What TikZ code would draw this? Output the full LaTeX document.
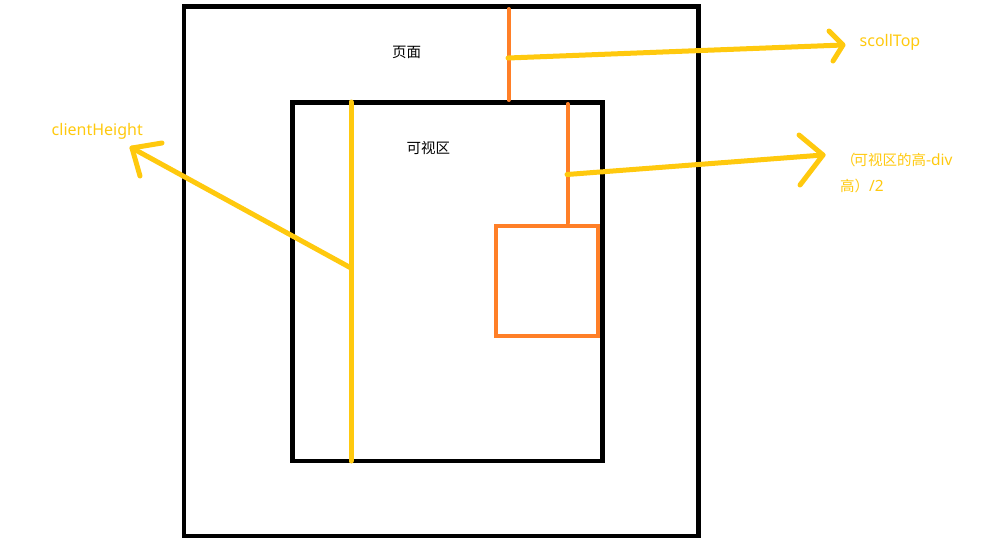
\documentclass[tikz,border=0pt]{standalone}
\usepackage{fontspec}
\setmainfont{Noto Sans}
\newfontfamily\cjk{Noto Sans CJK SC}
\definecolor{pyellow}{HTML}{FFC90E}
\definecolor{porange}{HTML}{FF7F27}
\begin{document}
\begin{tikzpicture}[x=1pt,y=-1pt,
  box/.style={draw=black,line width=4.6pt},
  obox/.style={draw=porange,line width=4.6pt},
  oline/.style={draw=porange,line width=4pt,line cap=round},
  yline/.style={draw=pyellow,line width=5pt,line cap=round,line join=round},
  lbl/.style={inner sep=0pt,anchor=base west,font=\fontsize{14.5}{16}\selectfont},
  ylbl/.style={lbl,text=pyellow},
  big/.style={font=\fontsize{16}{18}\selectfont}]
\useasboundingbox (0,0) rectangle (1008,544);
% rectangles
\coordinate (outerNW) at (184,6.5);
\coordinate (outerSE) at (698.5,536);
\coordinate (innerNW) at (292.5,102.5);
\coordinate (innerSE) at (602.5,461);
\coordinate (divNW) at (496,226);
\coordinate (divSE) at (598,336);
\draw[box] (outerNW) rectangle (outerSE);
\draw[box] (innerNW) rectangle (innerSE);
\draw[obox] (divNW) rectangle (divSE);
% orange measurement lines
\coordinate (st1) at (508.5,9);
\coordinate (st2) at (508.5,100);
\coordinate (hd1) at (567.5,104);
\coordinate (hd2) at (567.5,223);
\draw[oline] (st1) -- (st2);
\draw[oline] (hd1) -- (hd2);
% client height line
\coordinate (ch1) at (351,102);
\coordinate (ch2) at (351,461);
\draw[yline] (ch1) -- (ch2);
% arrows
\coordinate (a1s) at (508,58);
\coordinate (a1t) at (843,45);
\coordinate (a1u) at (829,31);
\coordinate (a1l) at (833,61);
\draw[yline] (a1s) -- (a1t);
\draw[yline] (a1u) -- (a1t) -- (a1l);
\coordinate (a2s) at (567,174.5);
\coordinate (a2t) at (823,155);
\coordinate (a2u) at (799,135);
\coordinate (a2l) at (800,185);
\draw[yline] (a2s) -- (a2t);
\draw[yline] (a2u) -- (a2t) -- (a2l);
\coordinate (a3s) at (351,268);
\coordinate (a3t) at (132,148);
\coordinate (a3u) at (162,143);
\coordinate (a3l) at (140,176);
\draw[yline] (a3s) -- (a3t);
\draw[yline] (a3u) -- (a3t) -- (a3l);
% labels
\node[lbl] (page) at (392,57) {\cjk 页面};
\node[lbl] (view) at (406.5,153) {\cjk 可视区};
\node[ylbl,big] (scroll) at (859.5,46) {scollTop};
\node[ylbl,big] (client) at (51.5,135) {clientHeight};
\node[ylbl] (half1) at (841,165) {{\cjk （\hspace{-2pt}可视区的高}{\fontsize{15.5}{17}\selectfont-div}};
\node[ylbl] (half2) at (840,191.5) {{\cjk 高）}{\fontsize{15.5}{17}\selectfont/2}};
\end{tikzpicture}
\end{document}
